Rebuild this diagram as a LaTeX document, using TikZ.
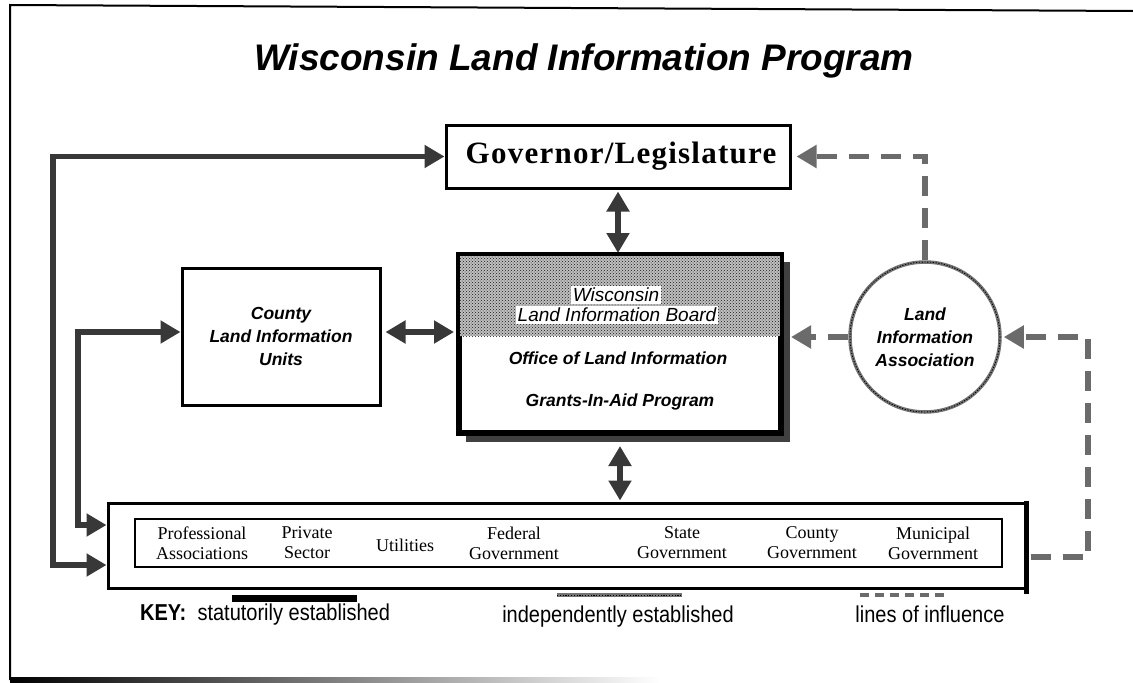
\documentclass[tikz,border=0pt]{standalone}
\usepackage{fontspec}
\setmainfont{Liberation Serif}
\newfontfamily\sansf{Liberation Sans}
\newfontfamily\narrowf[FakeStretch=0.87]{Liberation Sans}
\newfontfamily\govf[LetterSpace=4]{Liberation Serif}
\usetikzlibrary{arrows.meta,calc,patterns,backgrounds}
\begin{document}
\begin{tikzpicture}[x=1pt,y=-1pt,
  >={Triangle[length=20pt,width=22pt]},
  box/.style={draw=black, line width=3pt, inner sep=0pt, fill=white},
  stat/.style={draw=black!78, line width=5.5pt},
  infl/.style={draw=black!58, line width=5.5pt, dash pattern=on 20pt off 12pt},
  indep/.style={draw=black!55, line width=3.5pt},
  bisf/.style={font=\sansf\bfseries\itshape\fontsize{17.5}{23}\selectfont},
  isf/.style={font=\sansf\itshape\fontsize{19}{21}\selectfont},
  serif/.style={font=\fontsize{18}{20}\selectfont, align=center},
  keyf/.style={font=\narrowf\fontsize{23}{26}\selectfont},
]
\useasboundingbox (0,0) rectangle (1133,683);
% frame
\draw[line width=2pt] (10,680) -- (10,5) -- (1133,11);
\shade[left color=black, right color=white] (10,677) rectangle (660,682);
% title
\node[font=\sansf\bfseries\itshape\fontsize{37}{40}\selectfont, anchor=base] (title) at (584,70) {Wisconsin Land Information Program};
% governor
\node[box, minimum width=344, minimum height=63, font=\govf\bfseries\fontsize{31}{34}\selectfont] (gov) at (618,156.5) {\hspace*{6pt}Governor/Legislature};
% board
\node[box, line width=4pt, minimum width=320, minimum height=176] (board) at (620,344) {};
\begin{pgfonlayer}{background}
\fill[black!75] ($(board.south west)+(8,8)$) rectangle ($(board.north east)+(8,8)$);
\end{pgfonlayer}
\fill[gray!50] (board.north west) rectangle ($(board.north east)+(0,82)$);
\fill[pattern=crosshatch dots, pattern color=black!90] (board.north west) rectangle ($(board.north east)+(0,82)$);
\draw[line width=4pt] (board.north west) rectangle (board.south east);
\node[isf, fill=white, inner sep=2pt] (bw) at (616,295) {Wisconsin};
\node[isf, fill=white, inner sep=2pt] (bl) at (617,315) {Land Information Board};
\node[bisf] (off) at (618,358) {Office of Land Information};
\node[bisf] (gia) at (620,402) {Grants-In-Aid Program};
% county
\node[box, minimum width=198, minimum height=137, bisf, align=center] (county) at (281,336.5) {County\\Land Information\\Units};
% association
\node[circle, indep, fill=white, minimum size=150, inner sep=0pt, bisf, align=center] (lia) at (925,337) {Land\\Information\\Association};
\draw[black, line width=0.9pt, dash pattern=on 1.2pt off 1.6pt] (lia.center) circle[radius=75];
% bottom
\node[box, minimum width=917, minimum height=85] (bot) at (566.5,545.5) {};
\draw[line width=5pt] ([yshift=1pt]bot.north east) -- ([yshift=-4pt]bot.south east);
\node[draw, line width=1.3pt, minimum width=867, minimum height=48, inner sep=0pt] (inner) at (568.5,543) {};
\node[serif] (l1) at (202,543) {Professional\\Associations};
\node[serif] (l2) at (307,543) {Private\\Sector};
\node[serif] (l3) at (405,545) {Utilities};
\node[serif] (l4) at (514,543) {Federal\\Government};
\node[serif] (l5) at (682,543) {State\\Government};
\node[serif] (l6) at (812,543) {County\\Government};
\node[serif] (l7) at (933,543) {Municipal\\Government};
% statutory connectors
\coordinate (lo) at (53,565);
\coordinate (li) at (78,525);
\draw[stat,<->] (gov.west) -| (lo) -- (bot.west |- lo);
\draw[stat,<->] ([yshift=4.5pt]county.west) -| (li) -- (bot.west |- li);
\draw[stat,<->, shorten <=4pt, shorten >=4pt] ([yshift=4.5pt]county.east) -- ([yshift=4.5pt]county.east -| board.west);
\draw[stat,<->, shorten <=2pt, shorten >=1pt] (gov.south) -- (gov.south |- board.north);
\draw[stat,<->, shorten <=12pt, shorten >=1pt] (board.south) -- (board.south |- bot.north);
% influence connectors
\coordinate (rc) at (1088,557);
\draw[infl,->, shorten >=5pt] (lia.north) |- (gov.east);
\draw[infl,->, shorten >=9pt] (lia.west) -- (lia.west -| board.east);
\draw[infl,->, shorten <=4pt, shorten >=2pt] (rc -| bot.east) -- (rc) |- (lia.east);
% key
\draw[line width=7pt] (232,598) -- (357,598);
\draw[indep] (557,595) -- (682,595);
\draw[black, line width=0.9pt, dash pattern=on 1.2pt off 1.6pt] (557,595) -- (682,595);
\draw[black!58, line width=3.5pt, dash pattern=on 9pt off 6pt] (860,595) -- (945,595);
\node[keyf, anchor=base] (k1) at (265,620) {\textbf{KEY:}\ \ statutorily established};
\node[keyf, anchor=base] (k2) at (618,622) {independently established};
\node[keyf, anchor=base] (k3) at (930,622) {lines of influence};
\end{tikzpicture}
\end{document}
